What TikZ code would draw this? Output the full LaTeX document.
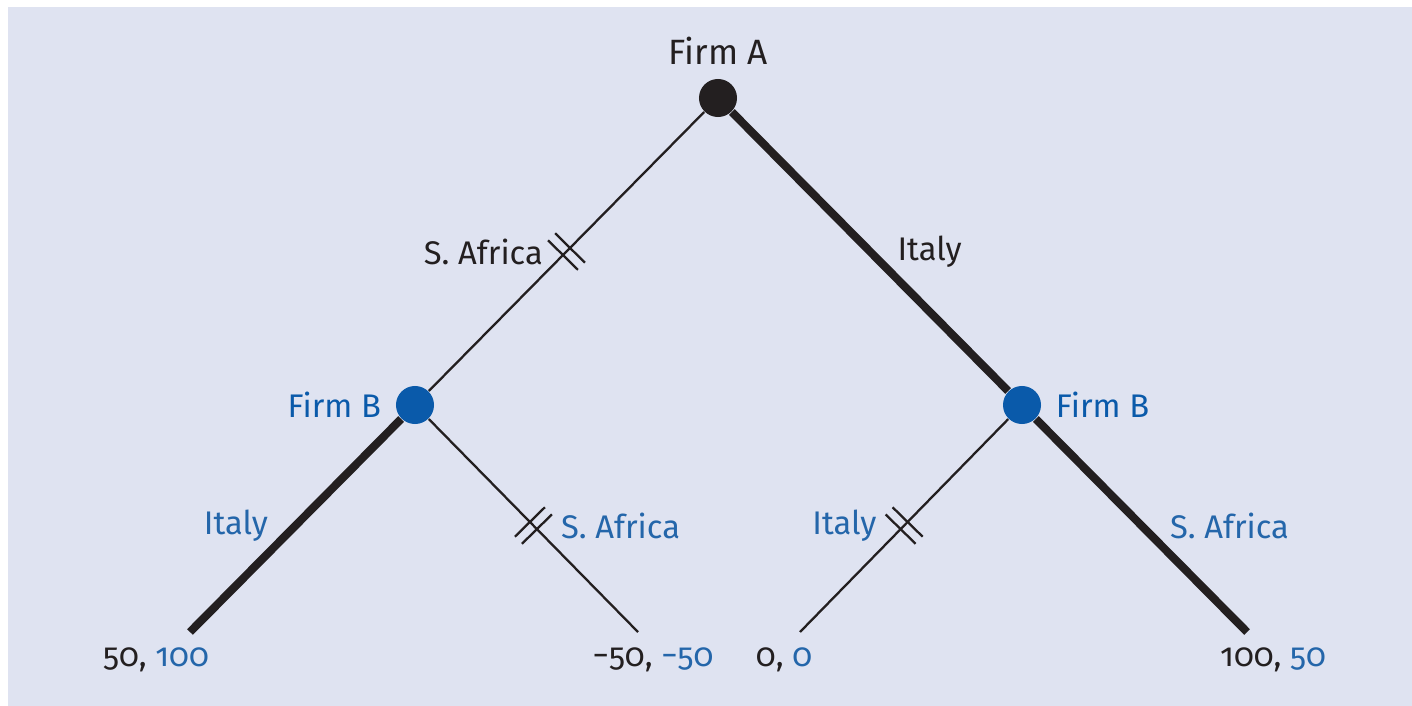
\documentclass[tikz,border=0pt]{standalone}
\usepackage{fontspec}
\setmainfont{Fira Sans}[Numbers=OldStyle]
\usepackage{xcolor}
\usetikzlibrary{positioning,calc}

\definecolor{bgblue}{HTML}{DFE3F1}
\definecolor{firmblue}{HTML}{0A5AAA}
\definecolor{labelblue}{HTML}{2466AA}
\definecolor{inkblack}{HTML}{231F20}

\tikzset{
  dot/.style={circle, inner sep=0pt, minimum size=0.38cm},
  move/.style={draw=inkblack, line width=0.65pt},
  bestmove/.style={draw=inkblack, line width=2.3pt},
  lbl/.style={inner sep=1pt, font=\fontsize{9.3}{11}\selectfont},
  cutmark/.pic={
    \draw[inkblack, line width=0.65pt] (-5,-21) -- (-5,21) (5,-21) -- (5,21);
  }
}

\begin{document}
\begin{tikzpicture}[x=0.01cm, y=-0.01cm]
\useasboundingbox (0,0) rectangle (1412,706);
\fill[bgblue] (8,7) rectangle (1412,706);

% decision nodes
\node[dot, fill=inkblack] (A) at (718,98) {};
\node[dot, fill=firmblue] (BL) at (415,405) {};
\node[dot, fill=firmblue] (BR) at (1022,405) {};

\node[lbl, text=inkblack, above=0.1cm of A, font=\fontsize{10}{12}\selectfont] (nameA) {Firm A};
\node[lbl, text=firmblue, left=0.1cm of BL] (nameBL) {Firm B};
\node[lbl, text=firmblue, right=0.1cm of BR] (nameBR) {Firm B};

% end points
\coordinate (L1) at (190,632);
\coordinate (L2) at (638,632);
\coordinate (L3) at (800,632);
\coordinate (L4) at (1247,632);

% Firm A moves
\draw[move] (A) -- (BL)
  node[lbl, midway, left=0.19cm, text=inkblack] (saA) {S. Africa}
  pic[midway, sloped] {cutmark};
\draw[bestmove] (A) -- (BR)
  node[lbl, midway, right=0.2cm, text=inkblack] (itA) {Italy};

% Firm B moves
\draw[bestmove] (BL) -- (L1)
  node[lbl, midway, left=0.2cm, text=labelblue] (itBL) {Italy};
\draw[move] (BL) -- (L2)
  node[lbl, midway, right=0.23cm, text=labelblue] (saBL) {S. Africa}
  pic[midway, sloped] {cutmark};
\draw[move] (BR) -- (L3)
  node[lbl, midway, left=0.23cm, text=labelblue] (itBR) {Italy}
  pic[midway, sloped] {cutmark};
\draw[bestmove] (BR) -- (L4)
  node[lbl, midway, right=0.21cm, text=labelblue] (saBR) {S. Africa};

% payoffs
\node[lbl] (p1) at (156,660) {\textcolor{inkblack}{50,} \textcolor{labelblue}{100}};
\node[lbl] (p2) at (653,660) {\textcolor{inkblack}{−50,} \textcolor{labelblue}{−50}};
\node[lbl] (p3) at (784,660) {\textcolor{inkblack}{0,} \textcolor{labelblue}{0}};
\node[lbl] (p4) at (1273,660) {\textcolor{inkblack}{100,} \textcolor{labelblue}{50}};
\end{tikzpicture}
\end{document}
